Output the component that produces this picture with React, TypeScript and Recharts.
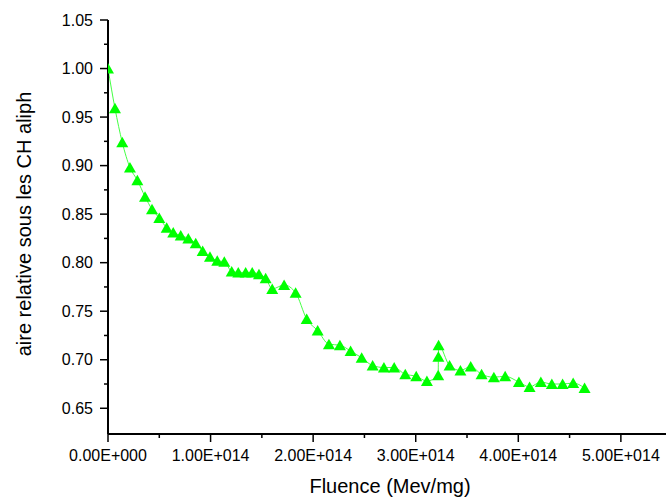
import { Line, LineChart, XAxis, YAxis } from "recharts";

// fluence in units of 1E+014 Mev/mg
const fluence = [
  0, 0.068, 0.139, 0.214, 0.286, 0.361, 0.429, 0.5, 0.572, 0.636,
  0.709, 0.783, 0.855, 0.923, 0.994, 1.065, 1.134, 1.206, 1.27, 1.342,
  1.406, 1.472, 1.537, 1.601, 1.717, 1.829, 1.937, 2.044, 2.154, 2.261,
  2.365, 2.473, 2.58, 2.69, 2.79, 2.898, 3.005, 3.109, 3.219, 3.221,
  3.223, 3.33, 3.436, 3.536, 3.642, 3.762, 3.872, 4.006, 4.11, 4.22,
  4.327, 4.432, 4.535, 4.646
];

const aireRelative = [
  1.0, 0.959, 0.924, 0.898, 0.885, 0.868, 0.855, 0.846, 0.836, 0.831,
  0.828, 0.825, 0.82, 0.812, 0.806, 0.802, 0.801, 0.791, 0.79, 0.79,
  0.79, 0.788, 0.784, 0.773, 0.777, 0.769, 0.742, 0.73, 0.716, 0.715,
  0.709, 0.702, 0.694, 0.692, 0.692, 0.685, 0.683, 0.678, 0.684, 0.703,
  0.715, 0.694, 0.689, 0.693, 0.685, 0.682, 0.683, 0.677, 0.672, 0.677,
  0.675, 0.675, 0.676, 0.671
];

const xTicks = [0, 0.5, 1, 1.5, 2, 2.5, 3, 3.5, 4, 4.5, 5];
const yTicks = [
  0.65, 0.675, 0.7, 0.725, 0.75, 0.775, 0.8, 0.825, 0.85, 0.875,
  0.9, 0.925, 0.95, 0.975, 1.0, 1.025, 1.05
];

const rows = fluence.map((f, i) => ({ fluence: f, aire: aireRelative[i] }));

const FONT = "'Liberation Sans', Arial, sans-serif";
const GREEN = "#00ff00";

function isMajor(v: number, step: number) {
  const r = v / step;
  return Math.abs(r - Math.round(r)) < 1e-6;
}

function formatFluence(v: number) {
  return v === 0 ? "0.00E+000" : `${v.toFixed(2)}E+014`;
}

function BottomTick({ x, y, payload }: any) {
  const major = isMajor(payload.value, 1);
  return (
    <g>
      <line x1={x} x2={x} y1={y} y2={y + (major ? 8 : 4)} stroke="#000" strokeWidth={1.5} />
      {major && (
        <text x={x} y={y + 27} textAnchor="middle" fontSize={16} fontFamily={FONT} fill="#000">
          {formatFluence(payload.value)}
        </text>
      )}
    </g>
  );
}

function TopTick({ x, y, payload }: any) {
  const major = isMajor(payload.value, 1);
  return <line x1={x} x2={x} y1={y} y2={y - (major ? 8 : 4)} stroke="#000" strokeWidth={1.5} />;
}

function LeftTick({ x, y, payload }: any) {
  const major = isMajor(payload.value, 0.05);
  return (
    <g>
      <line x1={x} x2={x - (major ? 8 : 4)} y1={y} y2={y} stroke="#000" strokeWidth={1.5} />
      {major && (
        <text x={x - 15} y={y + 5.7} textAnchor="end" fontSize={16} fontFamily={FONT} fill="#000">
          {payload.value.toFixed(2)}
        </text>
      )}
    </g>
  );
}

function Triangle({ cx, cy }: any) {
  if (cx == null || cy == null) return null;
  return <polygon points={`${cx},${cy - 5.5} ${cx - 6},${cy + 5} ${cx + 6},${cy + 5}`} fill={GREEN} />;
}

export default function App() {
  return (
    <div>
      <style>{"body{margin:0;background:#fff}"}</style>
      <LineChart width={666} height={498} data={rows} margin={{ top: 20, right: 0, bottom: 0, left: 0 }}>
        <XAxis
          dataKey="fluence"
          type="number"
          domain={[0, 5.44]}
          ticks={xTicks}
          interval={0}
          allowDataOverflow
          height={64}
          tickSize={0}
          tickMargin={0}
          tickLine={false}
          stroke="#000"
          strokeWidth={2}
          tick={<BottomTick />}
          label={() => (
            <text x={390} y={492.5} textAnchor="middle" fontSize={20} fontFamily={FONT} fill="#000">
              Fluence (Mev/mg)
            </text>
          )}
        />
        <XAxis
          xAxisId="top"
          orientation="top"
          dataKey="fluence"
          type="number"
          domain={[0, 5.44]}
          ticks={xTicks}
          interval={0}
          allowDataOverflow
          height={0}
          tickSize={0}
          tickMargin={0}
          tickLine={false}
          stroke="#000"
          strokeWidth={2}
          tick={<TopTick />}
        />
        <YAxis
          type="number"
          domain={[0.6235, 1.05]}
          ticks={yTicks}
          interval={0}
          allowDataOverflow
          width={108}
          tickSize={0}
          tickMargin={0}
          tickLine={false}
          stroke="#000"
          strokeWidth={2}
          tick={<LeftTick />}
          label={() => (
            <text
              x={31}
              y={224}
              transform="rotate(-90, 31, 224)"
              textAnchor="middle"
              fontSize={20}
              fontFamily={FONT}
              fill="#000"
            >
              aire relative sous les CH aliph
            </text>
          )}
        />
        <Line
          type="monotone"
          dataKey="aire"
          stroke="#44ff44"
          strokeWidth={1}
          dot={(p: any) => <Triangle key={`t-${p.index}`} cx={p.cx} cy={p.cy} />}
          activeDot={false}
          isAnimationActive={false}
        />
      </LineChart>
    </div>
  );
}
